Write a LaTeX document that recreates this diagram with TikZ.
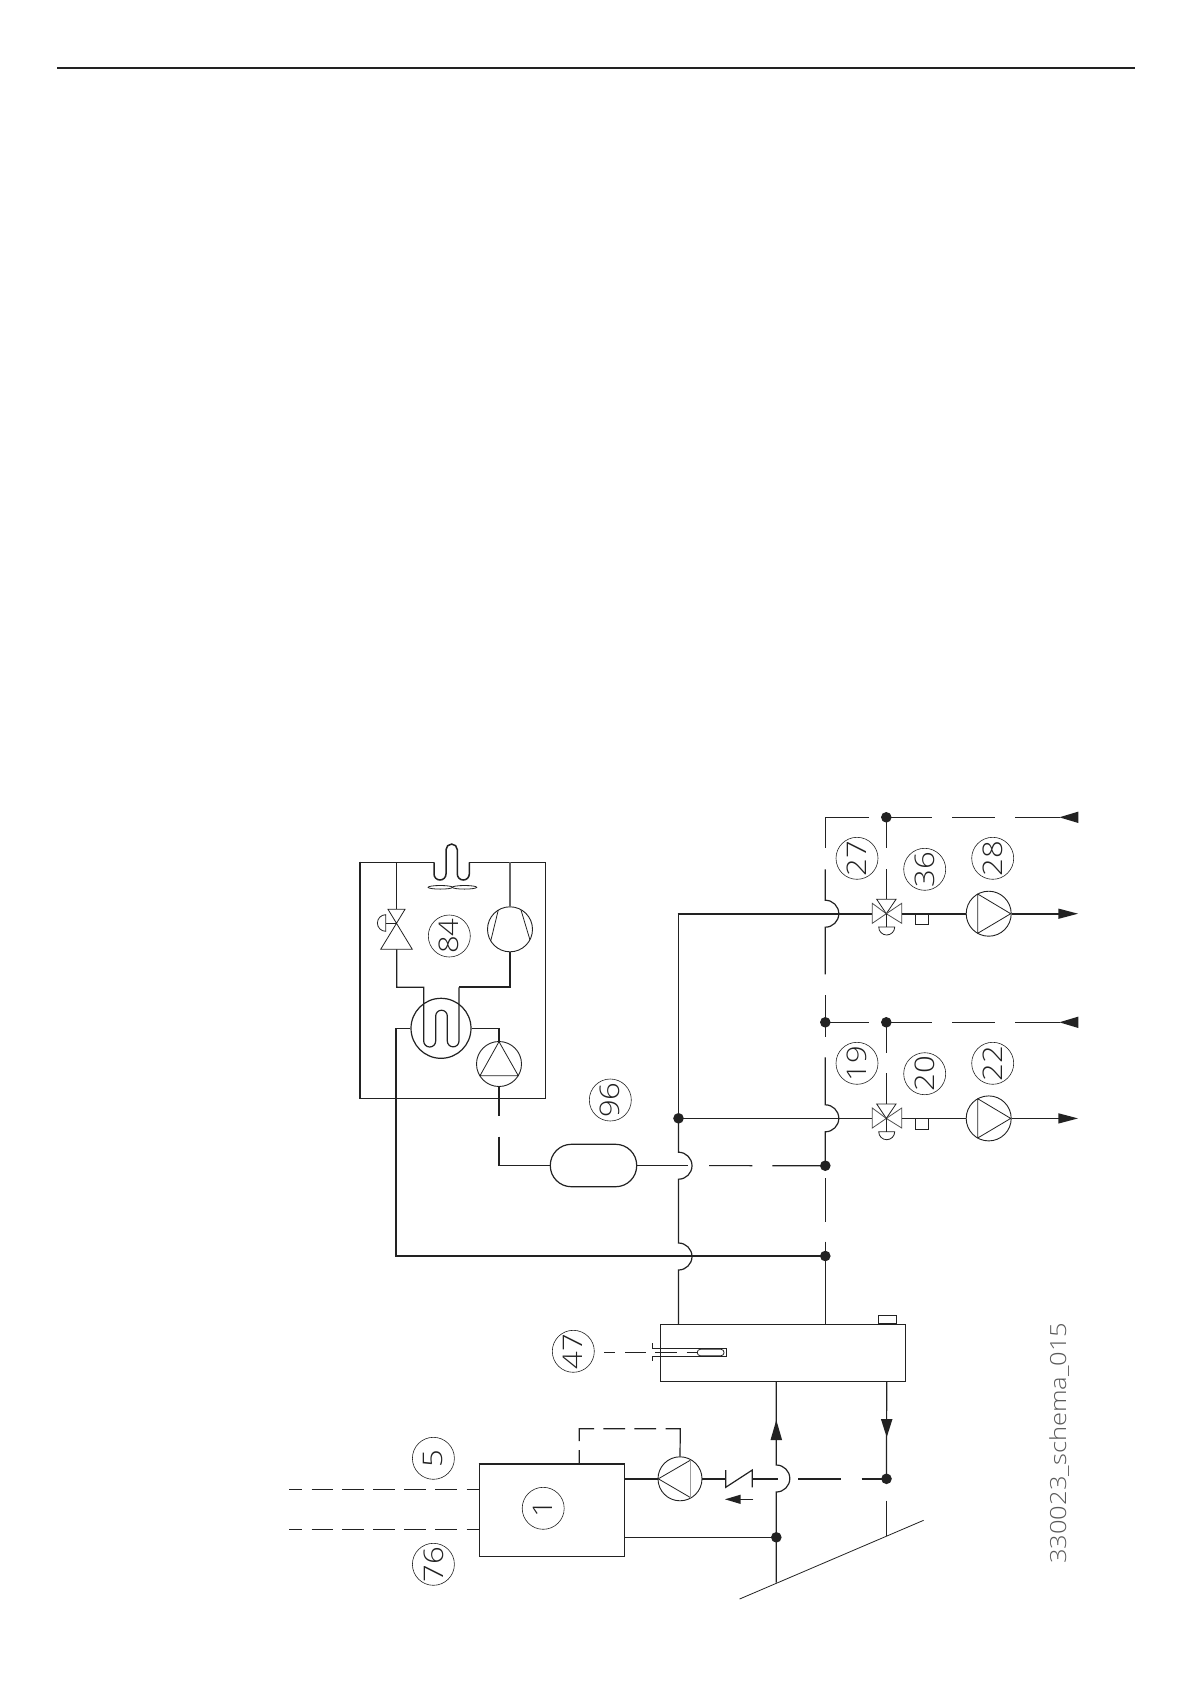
\documentclass[tikz,border=0pt]{standalone}
\usepackage{fontspec}
\usepackage{graphicx}
\usetikzlibrary{arrows.meta}
\newfontfamily\tagface[FakeStretch=1.15]{Open Sans Light}
\definecolor{ink}{HTML}{222222}
\tikzset{
  pipe/.style={line width=1.2pt,draw=ink},
  thickpipe/.style={line width=2.3pt,draw=ink},
  fine/.style={line width=.8pt,draw=ink},
  tag/.style={circle,draw=ink,line width=.6pt,minimum size=42pt,inner sep=0pt,rotate=90,text=ink,font=\tagface\fontsize{27}{29}\selectfont},
  jdot/.style={circle,fill=ink,draw=none,minimum size=10.6pt,inner sep=0pt},
  rotor/.style={circle,draw=ink,line width=.9pt,minimum size=45pt,inner sep=0pt},
  tip/.style={fill=ink,draw=none},
  box/.style={rectangle,draw=ink,line width=1.15pt,inner sep=0pt}
}
\begin{document}
\begin{tikzpicture}[x=1pt,y=-1pt,line cap=butt,line join=miter]
\useasboundingbox (0,0) rectangle (1191,1684);
\fill[white] (0,0) rectangle (1191,1684);
% top rule
\coordinate (ruleL) at (57,68); \coordinate (ruleR) at (1135,68);
\draw[line width=2pt,draw=ink] (ruleL) -- (ruleR);

% ---------- heat pump unit 84
\coordinate (fanL) at (434,862.3); \coordinate (fanR) at (469.3,862.3);
\draw[pipe] (fanL) -- (360,862.3);
\draw[line width=2pt,draw=ink] (360,861.7) -- (360,1098.9);
\draw[pipe] (360,1098.3) -- (545.3,1098.3) -- (545.3,862.3) -- (fanR);
\draw[line width=1.5pt,draw=ink] (fanL) -- (434,874) arc[start angle=180,end angle=360,radius=6pt] -- (446,849.7) arc[start angle=180,end angle=0,radius=5.65pt] -- (457.3,874) arc[start angle=180,end angle=360,radius=6pt] -- (fanR);
\draw[fine] (440.3,887.3) ellipse[x radius=12.2,y radius=1.8];
\draw[fine] (464.5,887.3) ellipse[x radius=12.2,y radius=1.8];
% expansion valve
\coordinate (expT) at (396.7,909.3); \coordinate (expB) at (396.7,949.3); \coordinate (expC) at (396.7,923);
\draw[pipe] (396.7,862.3) -- (expT);
\draw[fine] (388,909.3) -- (405,909.3) -- (380.7,949.3) -- (412.3,949.3) -- cycle;
\draw[fine] (expC) -- (385.7,923);
\draw[fine] (385.7,914.7) arc[start angle=90,end angle=270,radius=8.3pt] -- cycle;
% compressor
\node[rotor] (comp) at (510,929.3) {};
\draw[fine] (498.3,910) -- (490.7,941);
\draw[fine] (521,910) -- (530,940);
\draw[line width=1.3pt,draw=ink!70] (510,862.3) -- (comp.north);
\draw[line width=1.7pt,draw=ink] (comp.south) -- (510,987.3) -- (459,987.3);
% heat exchanger
\node[circle,draw=ink,line width=1.2pt,minimum size=60pt,inner sep=0pt] (hx) at (441,1028.3) {};
\draw[pipe] (expB) -- (396.7,987.3) -- (423.7,987.3) -- (423.7,1041) arc[start angle=180,end angle=360,radius=6pt] -- (435.7,1016) arc[start angle=180,end angle=0,radius=5.8pt] -- (447.3,1041) arc[start angle=180,end angle=360,radius=5.85pt] -- (459,987.3);
% brine pump
\node[rotor] (pumpB) at (499,1064) {};
\draw[fine] (499,1041.7) -- (480,1075.7) -- (518.3,1075.7) -- cycle;
\draw[pipe] (hx.east) -- (499,1028.3) -- (pumpB.north);
\draw[line width=1.6pt,draw=ink] (pumpB.south) -- (499,1115.7);
\node[tag] (t84) at (449.3,936) {84};

% ---------- tank 96
\node[rectangle,draw=ink,line width=1.2pt,rounded corners=21pt,minimum width=86.4pt,minimum height=42.4pt,inner sep=0pt] (tank) at (593.5,1165.5) {};
\draw[line width=1.6pt,draw=ink] (499,1136.7) -- (499,1165.5) -- (tank.west);
\node[tag] (t96) at (610.3,1100) {96};
\coordinate (jumpA) at (688,1165.5);
\draw[pipe] (tank.east) -- (jumpA);
\node[jdot] (d1) at (825.3,1165.7) {};
\draw[pipe,dash pattern=on 43.3pt off 20pt on 60pt] (709,1165.6) -- (d1.center);

% ---------- supply riser x=678.5
\node[jdot] (d2) at (678.5,1118.3) {};
\node[jdot] (d3) at (825.3,1256) {};
\node[jdot] (d4) at (825.3,1022.3) {};
\node[jdot] (d5) at (886.3,1022.3) {};
\node[jdot] (d6) at (886.3,817.3) {};
\draw[line width=1.6pt,draw=ink] (d2.center) -- (678.5,914);
\draw[thickpipe] (677.7,914) -- (872.3,914);
\draw[pipe] (d2.center) -- (678.5,1152.2) arc[start angle=90,end angle=-90,radius=13.5pt] -- (678.5,1243) arc[start angle=90,end angle=-90,radius=13.5pt] -- (678.5,1324.3);
\draw[pipe] (d2.center) -- (872.3,1118.3);
% return riser x=825.3
\draw[pipe] (869,817.3) -- (825.3,817.3) -- (825.3,848.3);
\draw[pipe] (825.3,869.3) -- (825.3,900.2) arc[start angle=90,end angle=-90,radius=13.5pt] -- (825.3,974.3);
\draw[pipe] (825.3,995) -- (d4.center) -- (825.3,1037.3);
\draw[pipe] (825.3,1057.3) -- (825.3,1104.8) arc[start angle=90,end angle=-90,radius=13.5pt] -- (d1.center);
\draw[pipe] (d1.center) ++(0,12.6) -- (825.3,1221.7);
\draw[pipe] (825.3,1241.7) -- (d3.center) -- (825.3,1324.3);
% lead from HX to return riser
\draw[line width=1.5pt,draw=ink] (395.2,1028.3) -- (hx.west);
\draw[line width=1.6pt,draw=ink] (396,1028.3) -- (396,1256.6);
\draw[pipe] (396,1256) -- (d3.center);

% ---------- circuits
\foreach \yy/\lw/\nm in {913.7/2.3/a,1118.4/1.2/b}{
  \coordinate (c\nm) at (886.3,\yy);
  \draw[draw=ink,line width=.8pt] (c\nm) -- ++(-9.6,-14.4) -- ++(19.3,0) -- cycle;
  \draw[draw=ink!80,line width=.8pt] (c\nm) -- ++(-14,-10.4) -- ++(0,20) -- cycle;
  \draw[draw=ink!80,line width=.8pt] (c\nm) -- ++(15.4,-10.4) -- ++(0,20) -- cycle;
  \draw[fine] (c\nm) -- ++(0,13.3);
  \draw[draw=ink,line width=.8pt] (878.7,\yy+13.3) arc[start angle=180,end angle=360,radius=8pt] -- cycle;
  \draw[draw=ink,line width=.9pt] (915.3,\yy) rectangle (928.7,\yy+10.6);
  \node[rotor] (p\nm) at (988.7,\yy) {};
  \draw[fine] (977.7,\yy-19.7) -- (1010.7,\yy) -- (977.7,\yy+19.6) -- cycle;
  \draw[draw=ink,line width=\lw pt] (901.7,\yy) -- (p\nm.west);
  \draw[draw=ink,line width=\lw pt] (p\nm.east) -- (1059,\yy);
  \fill[tip] (1058.3,\yy-5.2) -- (1078,\yy) -- (1058.3,\yy+5.2) -- cycle;
}
\draw[pipe] (d6.center) -- (886.3,848.3);
\draw[pipe] (886.3,869.3) -- (886.3,899.3);
\draw[pipe] (d5.center) -- (886.3,1052.7);
\draw[pipe] (886.3,1073.3) -- (886.3,1104);
\draw[pipe,dash pattern=on 45.4pt off 20.6pt on 42.7pt off 20pt on 60pt] (d6.center) -- (1060,817.3);
\draw[pipe,dash pattern=on 45.4pt off 20.6pt on 42.7pt off 20pt on 60pt] (d5.center) -- (1060,1022.3);
\draw[pipe] (d4.center) -- (869,1022.3);
\fill[tip] (1059.3,817.3) -- (1078.3,811.6) -- (1078.3,823) -- cycle;
\fill[tip] (1059.3,1022.3) -- (1078.3,1016.6) -- (1078.3,1028) -- cycle;
\node[tag] (t27) at (857,858.3) {27};
\node[tag] (t36) at (924.7,869.3) {36};
\node[tag] (t28) at (992.7,858.3) {28};
\node[tag] (t19) at (857,1063.3) {19};
\node[tag] (t20) at (924.7,1073.7) {20};
\node[tag] (t22) at (992.7,1063.3) {22};

% ---------- buffer / heater
\node[box,minimum width=244.4pt,minimum height=57pt,anchor=north west] (heater) at (660.3,1324.3) {};
\node[box,minimum width=17.4pt,minimum height=8pt,anchor=south west] (cap) at (878.3,1324.3) {};
\node[tag] (t47) at (573.3,1351.3) {47};
\draw[pipe] (652.3,1343.3) -- (652.3,1348.3) -- (726.7,1348.3) -- (726.7,1356.3) -- (652.3,1356.3) -- (652.3,1360.7);
\draw[fine,rounded corners=3pt,fill=white] (697.3,1349.3) rectangle (724,1355.7);
\draw[fine,dash pattern=on 11pt off 10pt on 20.7pt off 9.3pt on 21.7pt off 10pt on 11.3pt off 100pt] (604,1352.3) -- (698,1352.3);

% ---------- boiler
\node[box,minimum width=145.8pt,minimum height=92.3pt,anchor=north west] (boiler) at (478.5,1464) {};
\draw[line width=2.6pt,draw=ink] (boiler.north west) -- (boiler.north east);
\node[tag] (t1) at (543.2,1508.3) {1};
\node[tag] (t5) at (433.4,1458.3) {5};
\node[tag] (t76) at (433.4,1564.3) {76};
\coordinate (elL) at (289.3,1489.3); \coordinate (gasL) at (289.3,1529.3);
\draw[pipe,dash pattern=on 12.4pt off 10pt on 21pt off 9.6pt on 21.4pt off 9.6pt on 21.4pt off 9.6pt on 21.4pt off 9.3pt on 22pt off 9.7pt on 20pt] (elL) -- (boiler.west |- elL);
\draw[pipe,dash pattern=on 12.4pt off 10pt on 21pt off 9.6pt on 21.4pt off 9.6pt on 21.4pt off 9.6pt on 21.4pt off 9.3pt on 22pt off 9.7pt on 20pt] (gasL) -- (boiler.west |- gasL);
% boiler pump
\node[rotor,minimum size=44pt] (pumpC) at (680,1478.8) {};
\draw[fine] (658.3,1478.8) -- (690.7,1460);
\draw[fine] (658.3,1478.8) -- (690.7,1497.7);
\draw[draw=ink!45,line width=1.4pt] (690.7,1460) -- (690.7,1497.7);
\draw[thickpipe] (boiler.east |- pumpC) -- (pumpC.west);
\coordinate (chkL) at (725.7,1478.8); \coordinate (chkR) at (752.3,1478.8);
\draw[thickpipe] (pumpC.east) -- (chkL);
\draw[pipe] (725.7,1470) -- (725.7,1487.3) -- (752.3,1470) -- (752.3,1487.3);
\draw[thickpipe] (chkR) -- (777.6,1478.8);
\node[jdot] (d7) at (886.5,1478.8) {};
\node[jdot] (d8) at (776.3,1537.3) {};
\draw[thickpipe,dash pattern=on 43pt off 20.5pt on 40pt] (798,1478.8) -- (d7.center);
\draw[fine] (753.3,1499.3) -- (738,1499.3);
\fill[tip] (725,1499.3) -- (740.7,1494.6) -- (740.7,1504) -- cycle;
% control line
\draw[pipe,dash pattern=on 14pt off 9pt on 27pt off 9.3pt on 21.7pt off 9.3pt on 21.7pt off 9.7pt on 60pt] (boiler.north -| 579.3,0) -- (579.3,1428.7) -- (680.3,1428.7) -- (pumpC.north);
% flow and return
\draw[pipe] (776.3,1381.3) -- (776.3,1465) arc[start angle=90,end angle=-90,radius=13.5pt] -- (d8.center) -- (776.3,1582.7);
\fill[tip] (776.3,1420) -- (782.1,1440) -- (770.5,1440) -- cycle;
\draw[pipe] (886.7,1381.3) -- (d7.center);
\fill[tip] (886.7,1437.3) -- (880.9,1419) -- (892.5,1419) -- cycle;
\draw[pipe] (886.7,1500.7) -- (886.7,1536);
\draw[pipe] (boiler.east |- d8) -- (d8.center);
\coordinate (floorA) at (739.6,1599); \coordinate (floorB) at (923.6,1520.3);
\draw[fine] (floorA) -- (floorB);
% code
\node[rotate=90,anchor=base west,text=ink!75,font=\tagface\fontsize{22.2}{24}\selectfont,inner sep=0pt] (code) at (1066,1564) {330023\_schema\_015};
\end{tikzpicture}
\end{document}
